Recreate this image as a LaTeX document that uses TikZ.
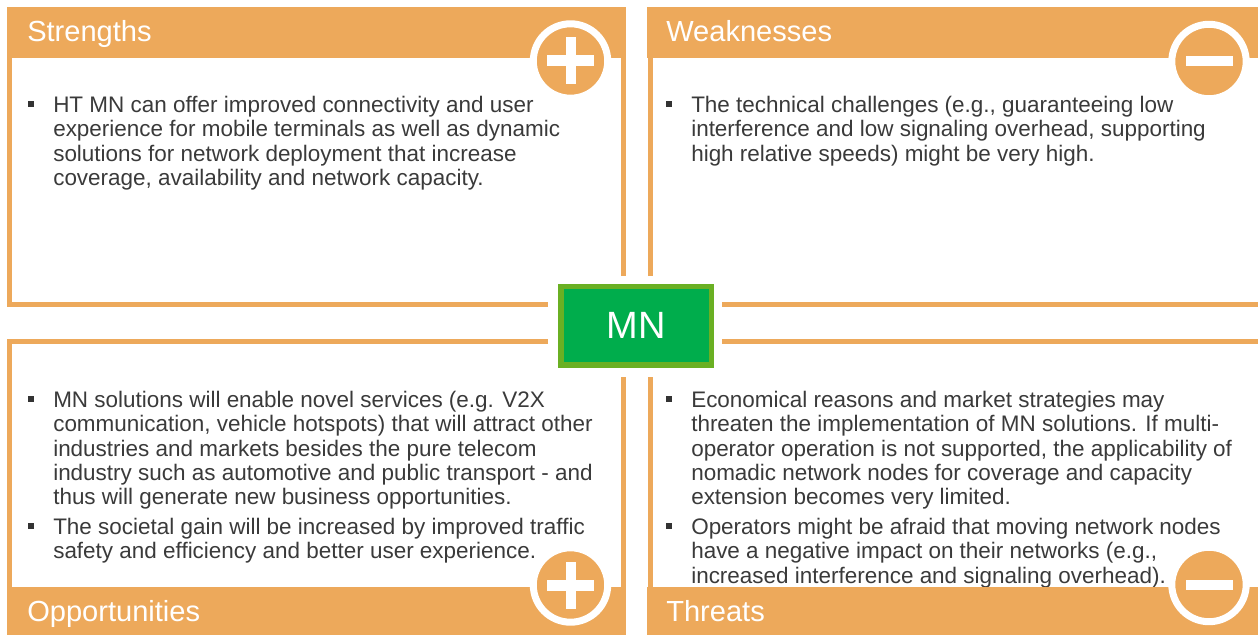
\documentclass[tikz,border=0pt]{standalone}
\usepackage{fontspec}
\setmainfont{Liberation Sans}
\definecolor{swotorange}{RGB}{237,169,91}
\definecolor{mnfill}{RGB}{0,173,76}
\definecolor{mnedge}{RGB}{106,176,35}
\definecolor{bodygrey}{RGB}{58,58,58}
\tikzset{
	frameline/.style={draw=swotorange,line width=3.75pt},
	headbar/.style={fill=swotorange},
	headtext/.style={anchor=base west,inner sep=0pt,text=white,font=\fontsize{21.8}{24}\selectfont},
	bodytext/.style={anchor=north west,inner sep=0pt,align=left,text=bodygrey,font=\fontsize{16.85}{18.2}\selectfont},
	bulletmark/.style={fill=black!80,inner sep=0pt,minimum size=4.9pt}
}
\begin{document}
\begin{tikzpicture}[x=0.75pt,y=-0.75pt]
			\useasboundingbox (0,0) rectangle (1258,635);
			% frames
			\draw[frameline] (623.5,276) -- (623.5,9.5) -- (9.5,9.5) -- (9.5,304.5) -- (548,304.5);
			\draw[frameline] (650,276) -- (650,9.5) -- (1258,9.5);
			\draw[frameline] (722,304.5) -- (1258,304.5);
			\draw[frameline] (548,341) -- (9.5,341) -- (9.5,632) -- (623,632) -- (623,377);
			\draw[frameline] (722,341) -- (1258,341);
			\draw[frameline] (650,377) -- (650,632);

			% body text
			\node[bulletmark] (bulletS) at (31,104) {};
			\node[bodytext] (textS) at (53,96) {HT MN can offer improved connectivity and user\\experience for mobile terminals as well as dynamic\\solutions for network deployment that increase\\coverage, availability and network capacity.};
			\node[bulletmark] (bulletW) at (669,104) {};
			\node[bodytext] (textW) at (691,96) {The technical challenges (e.g., guaranteeing low\\interference and low signaling overhead, supporting\\high relative speeds) might be very high.};
			\node[bulletmark] (bulletOa) at (31,399) {};
			\node[bodytext] (textOa) at (53,391) {MN solutions will enable novel services (e.g. V2X\\communication, vehicle hotspots) that will attract other\\industries and markets besides the pure telecom\\industry such as automotive and public transport - and\\thus will generate new business opportunities.};
			\node[bulletmark] (bulletOb) at (31,526) {};
			\node[bodytext] (textOb) at (53,518) {The societal gain will be increased by improved traffic\\safety and efficiency and better user experience.};
			\node[bulletmark] (bulletTa) at (669,399) {};
			\node[bodytext] (textTa) at (691,391) {Economical reasons and market strategies may\\threaten the implementation of MN solutions. If multi-\\operator operation is not supported, the applicability of\\nomadic network nodes for coverage and capacity\\extension becomes very limited.};
			\node[bulletmark] (bulletTb) at (669,526) {};
			\node[bodytext] (textTb) at (691,518) {Operators might be afraid that moving network nodes\\have a negative impact on their networks (e.g.,\\increased interference and signaling overhead).};

			% header bars, over the text
			\fill[headbar] (7,7) rectangle (626,58);
			\fill[headbar] (647,7) rectangle (1258,58);
			\fill[headbar] (7,586.5) rectangle (626,635);
			\fill[headbar] (647,586.5) rectangle (1258,635);
			\node[headtext] (titleS) at (27,42) {Strengths};
			\node[headtext] (titleW) at (666,42) {Weaknesses};
			\node[headtext] (titleO) at (27,621) {Opportunities};
			\node[headtext] (titleT) at (666,621) {Threats};

			% round signs
			\foreach \x/\y in {570.5/61,570.5/585} {
				\draw[white,fill=swotorange,line width=5.25pt] (\x,\y) circle (37.2);
				\fill[white] (\x-23.5,\y-5.5) rectangle (\x+23.5,\y+5.5);
				\fill[white] (\x-5,\y-23.5) rectangle (\x+5,\y+23.5);
			}
			\foreach \x/\y in {1209/61.5,1209/584.5} {
				\draw[white,fill=swotorange,line width=5.25pt] (\x,\y) circle (37.2);
				\fill[white] (\x-23.5,\y-5) rectangle (\x+23.5,\y+5);
			}

			% centre box
			\node[draw=mnedge,fill=mnfill,line width=4.1pt,minimum width=113pt,minimum height=59pt,inner sep=0pt,text=white,font=\fontsize{28.5}{32}\selectfont] (mn) at (636.3,325.8) {MN};
	\end{tikzpicture}
\end{document}
